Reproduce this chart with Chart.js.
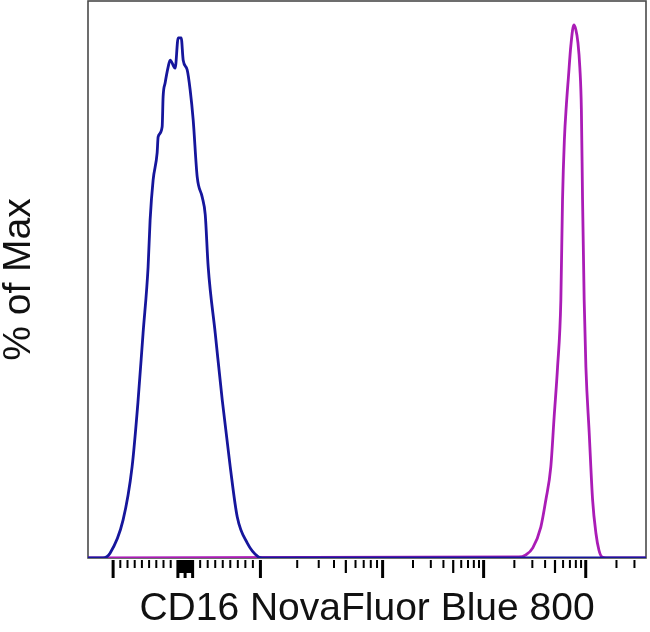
<!DOCTYPE html>
<html>
<head>
<meta charset="utf-8">
<script src="https://cdn.jsdelivr.net/npm/chart.js@4.4.1/dist/chart.umd.min.js"></script>
<style>
  html, body { margin: 0; padding: 0; background: #fff; }
  #wrap { width: 650px; height: 632px; }
</style>
</head>
<body>
<div id="wrap"><canvas id="histo"></canvas></div>
<script>
// axis runs in display channels 0..1000 (biexponential scale)
const blueX = [0, 27, 39.5, 62.8, 79, 89.8, 98.7, 107.7, 111.3, 116.7, 123.9, 125.7, 132.9, 134.6, 138.2, 143.6, 147.2, 156.2, 161.6, 167, 170.6, 177.7, 183.1, 188.5, 195.7, 204.7, 210.1, 215.4, 228, 240.6, 254.9, 267.5, 285.5, 305.2, 312, 1000]
const blueY = [0, 0, 0.9, 7.1, 17.1, 29.6, 42.2, 54.6, 63.4, 70.9, 76, 79, 80.9, 86.5, 89.1, 92.1, 93.4, 91.9, 97.6, 97.6, 93.4, 91.6, 87.8, 82.2, 71.5, 67.7, 64.4, 54.6, 42.2, 29.6, 17.1, 7.7, 2.8, 0.2, 0, 0]

const magentaX = [0, 772, 784.6, 797.1, 811.5, 820.5, 829.4, 835.4, 841.5, 847.4, 850.4, 853.7, 857.3, 860.9, 865.4, 870.7, 874.3, 877.9, 881.5, 884.2, 886.3, 889.2, 892.3, 898.2, 904.3, 910.2, 915.6, 921, 928.2, 1000]
const magentaY = [0, 0.2, 0.6, 1.9, 5.8, 10.9, 17.1, 26.5, 35.8, 48.4, 67.2, 78.4, 85, 90.1, 96.2, 100, 99.1, 96.8, 91.9, 84.1, 67.2, 48.4, 35.8, 23.5, 10.9, 4.7, 1.5, 0.2, 0, 0]

// tick values in fluorescence units
const majorTicks = [-1000, -100, 0, 100, 1000, 10000, 100000, 1000000]
const decades = [1000, 10000, 100000, 1000000]
const decadeChannel = [309, 528, 709, 892, 1075]
const zeroChannel = 174

function toChannel(v) {
  if (v <= 0) return zeroChannel + v * 0.129
  if (v <= 1000) return zeroChannel + v * 0.135
  const e = Math.log10(v) - 3
  const i = Math.min(Math.floor(e), 3)
  return decadeChannel[i] + (e - i) * (decadeChannel[i + 1] - decadeChannel[i])
}

const tickList = []
for (let v = -900; v <= 900; v += 100) if (v !== 0 && Math.abs(v) !== 100) tickList.push([v, 'short'])
for (let v = -90; v <= 90; v += 10) tickList.push([v, 'mid'])
decades.forEach(d => {
  for (let k = 2; k <= 9; k++) tickList.push([d * k, k === 5 ? 'mid' : 'short'])
})
majorTicks.forEach(v => tickList.push([v, 'long']))

const toPts = (xs, ys) => xs.map((x, i) => ({ x: x, y: ys[i] }))

const frame = {
  id: 'frame',
  beforeDatasetsDraw(chart) {
    const { ctx, chartArea: a } = chart
    ctx.save()
    ctx.strokeStyle = '#4a4a4a'
    ctx.lineWidth = 1.6
    ctx.strokeRect(a.left, a.top, a.right - a.left, a.bottom - a.top)
    ctx.restore()
  },
  afterDraw(chart) {
    const { ctx, chartArea: a } = chart
    const xs = chart.scales.x
    const len = { long: 18, mid: 13, short: 8 }
    const wid = { long: 3, mid: 2.2, short: 2 }
    ctx.save()
    ctx.strokeStyle = '#000'
    tickList.forEach(([v, kind]) => {
      const c = toChannel(v)
      if (c < 0 || c > 1000) return
      const px = xs.getPixelForValue(c)
      ctx.lineWidth = wid[kind]
      ctx.beginPath()
      ctx.moveTo(px, a.bottom + 2)
      ctx.lineTo(px, a.bottom + 2 + len[kind])
      ctx.stroke()
    })
    ctx.restore()
  }
}

new Chart(document.getElementById('histo'), {
  type: 'line',
  data: {
    datasets: [{
      label: 'unstained',
      data: toPts(blueX, blueY),
      borderColor: '#16169c',
      borderWidth: 2.8,
      pointRadius: 0,
      cubicInterpolationMode: 'monotone',
      fill: false
    }, {
      label: 'CD16',
      data: toPts(magentaX, magentaY),
      borderColor: '#aa1cb6',
      borderWidth: 2.8,
      pointRadius: 0,
      cubicInterpolationMode: 'monotone',
      fill: false
    }]
  },
  options: {
    responsive: true,
    maintainAspectRatio: false,
    animation: false,
    layout: { padding: { top: 1, right: 4, left: 0, bottom: 0 } },
    plugins: {
      legend: { display: false },
      tooltip: { enabled: false }
    },
    scales: {
      x: {
        type: 'linear',
        min: 0,
        max: 1000,
        grid: { display: false },
        border: { display: false },
        ticks: { display: false },
        afterFit: s => { s.height = 74 },
        title: {
          display: true,
          text: 'CD16 NovaFluor Blue 800',
          color: '#111',
          font: { family: 'Liberation Sans', size: 39, lineHeight: 1.15 },
          padding: { top: 0, bottom: 0 }
        }
      },
      y: {
        min: 0,
        max: 104.5,
        grid: { display: false },
        border: { display: false },
        ticks: { display: false },
        afterFit: s => { s.width = 88 },
        title: {
          display: true,
          text: '% of Max',
          color: '#111',
          font: { family: 'Liberation Sans', size: 39, lineHeight: 1 },
          padding: { top: 0, bottom: 0 }
        }
      }
    }
  },
  plugins: [frame]
})
</script>
</body>
</html>
